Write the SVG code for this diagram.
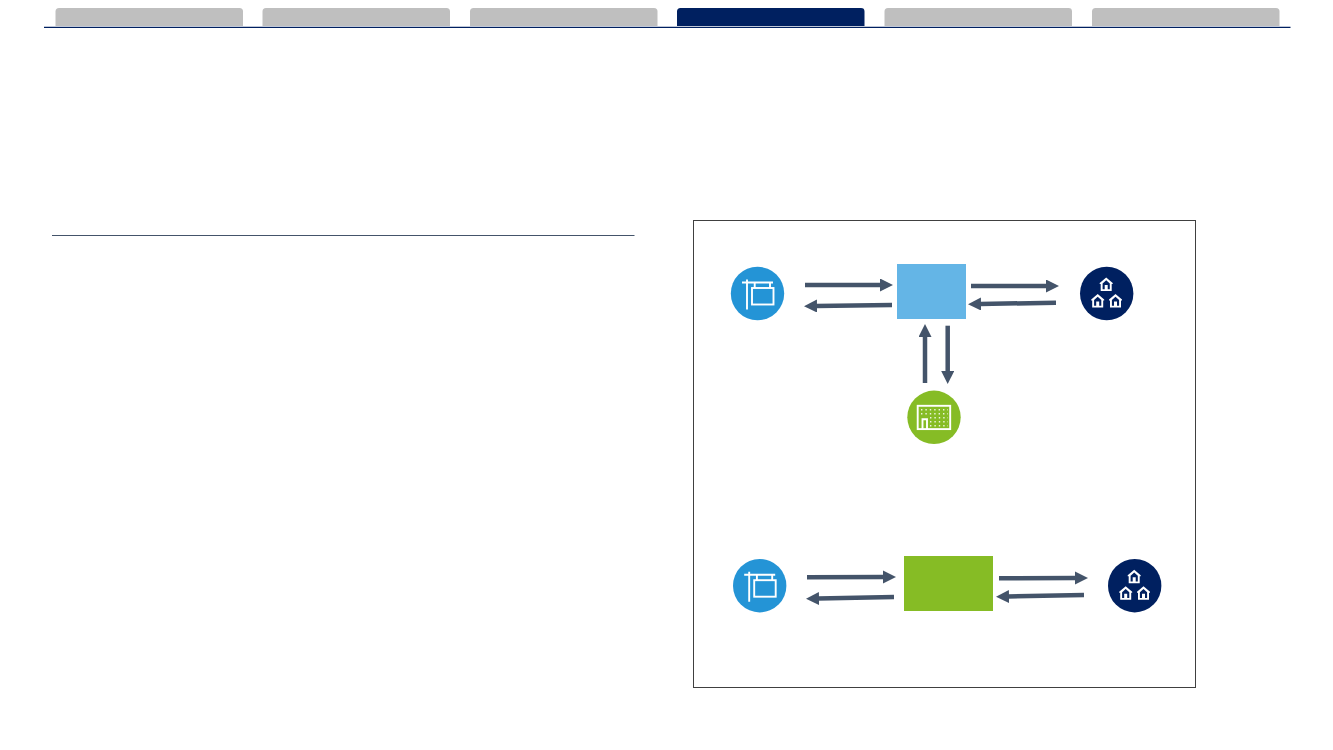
<svg xmlns="http://www.w3.org/2000/svg" xmlns:xlink="http://www.w3.org/1999/xlink" width="1333" height="750" viewBox="0 0 1333 750">
<style>
.tab{fill:#BFBFBF}
.tab.on{fill:#002060}
.rule{stroke:#002060;stroke-width:1.2;fill:none}
.rule2{stroke:#44546A;stroke-width:1;fill:none}
.frame{fill:none;stroke:#404040;stroke-width:1}
.arr{stroke:#44546A;stroke-width:4.500;fill:none;marker-end:url(#head)}
.ic{fill:none;stroke:#fff;stroke-width:1.9}
.icf{fill:#fff}
</style>
<defs>
<marker id="head" markerUnits="userSpaceOnUse" markerWidth="14" markerHeight="14" refX="1" refY="6.500" orient="auto">
<path d="M0 0L13 6.500L0 13Z" fill="#44546A"/>
</marker>
<g id="sign">
<circle r="26.700" fill="#2494D6"/>
<path class="ic" d="M-15.500-11H15.500M-10.500-14V16M-2.800-11V-5.500M12.500-11V-5.500"/>
<rect class="ic" x="-5.500" y="-5.500" width="21.500" height="16.500"/>
</g>
<g id="house">
<path class="icf" d="M0-7L6.500-1.500V-0.500H5.500V6.500H-5.500V-0.500H-6.500V-1.500Z"/>
<path d="M0-4.200L3.600-1V4.800H1.500V0.500H-1.500V4.800H-3.600V-1Z" fill="#002060"/>
</g>
<g id="homes">
<circle r="26.700" fill="#002060"/>
<use xlink:href="#house" href="#house" x="-0.500" y="-9"/>
<use xlink:href="#house" href="#house" x="-9" y="7.500"/>
<use xlink:href="#house" href="#house" x="8.800" y="7.500"/>
</g>
<g id="office">
<circle r="26.700" fill="#86BC25"/>
<rect class="ic" x="-16.300" y="-11.500" width="32.500" height="23.300"/>
<path d="M-13-7.500H14M-13-3.500H14M-4 .5H14M-4 4.500H14M-4 8.500H14" stroke="#fff" stroke-width="1.400" stroke-dasharray="1.400 3" fill="none" opacity=".85"/>
<path class="ic" d="M-11.500 11.800V2H-7V11.800"/>
</g>
</defs>

<g id="tabs">
<path class="tab" d="M55.500 26V11.500a3.500 3.500 0 0 1 3.500-3.500H239.500a3.500 3.500 0 0 1 3.500 3.500V26Z"/>
<path class="tab" d="M262.500 26V11.500a3.500 3.500 0 0 1 3.500-3.500H446.500a3.500 3.500 0 0 1 3.500 3.500V26Z"/>
<path class="tab" d="M470 26V11.500a3.500 3.500 0 0 1 3.500-3.500H654a3.500 3.500 0 0 1 3.500 3.500V26Z"/>
<path class="tab on" d="M677 26V11.500a3.500 3.500 0 0 1 3.500-3.500H861a3.500 3.500 0 0 1 3.500 3.500V26Z"/>
<path class="tab" d="M884.500 26V11.500a3.500 3.500 0 0 1 3.500-3.500H1068.500a3.500 3.500 0 0 1 3.500 3.500V26Z"/>
<path class="tab" d="M1092 26V11.500a3.500 3.500 0 0 1 3.500-3.500H1276a3.500 3.500 0 0 1 3.500 3.500V26Z"/>
</g>
<path class="rule" d="M44 27.300H1290.500"/>
<path class="rule2" d="M52 235.500H634.500"/>
<rect class="frame" x="693.500" y="220.500" width="502" height="467"/>

<g id="connectors">
<path class="arr" d="M805 285H881"/>
<path class="arr" d="M892 305L816 306"/>
<path class="arr" d="M971 286H1047"/>
<path class="arr" d="M1056 302.700L980 304"/>
<path class="arr" d="M925 383V336"/>
<path class="arr" d="M947.700 325.700V372"/>
<path class="arr" d="M807 577.300L884 577"/>
<path class="arr" d="M894 597L818 598.500"/>
<path class="arr" d="M999 578.300L1076 578"/>
<path class="arr" d="M1084 595L1008 596.500"/>
</g>

<g id="node-sign-top"><use xlink:href="#sign" href="#sign" x="757.500" y="293.500"/></g>
<g id="node-hub-blue"><rect x="897" y="264" width="69" height="55" fill="#64B5E6"/></g>
<g id="node-homes-top"><use xlink:href="#homes" href="#homes" x="1106.700" y="293.500"/></g>
<g id="node-office"><use xlink:href="#office" href="#office" x="934" y="417.300"/></g>
<g id="node-sign-bottom"><use xlink:href="#sign" href="#sign" x="759.700" y="585.700"/></g>
<g id="node-hub-green"><rect x="904" y="556" width="89" height="55" fill="#86BC25"/></g>
<g id="node-homes-bottom"><use xlink:href="#homes" href="#homes" x="1134.700" y="585.700"/></g>
</svg>
